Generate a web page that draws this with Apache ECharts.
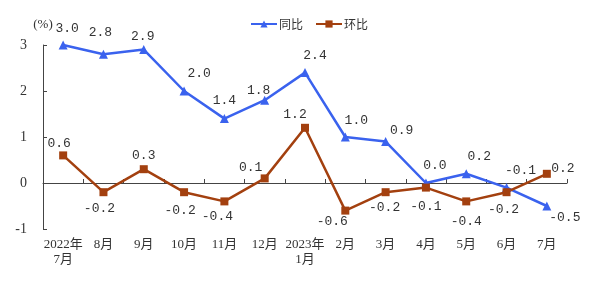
<!DOCTYPE html>
<html><head><meta charset="utf-8">
<script src="https://cdn.jsdelivr.net/npm/echarts@6/dist/echarts.min.js"></script>
<style>html,body{margin:0;padding:0;background:#fff}#c{width:596px;height:291px}</style>
</head><body><div id="c"></div>
<script>
const categories = ['2022年\n7月','8月','9月','10月','11月','12月','2023年\n1月','2月','3月','4月','5月','6月','7月'];
const yoy = [3.0, 2.8, 2.9, 2.0, 1.4, 1.8, 2.4, 1.0, 0.9, 0.0, 0.2, -0.1, -0.5];
const mom = [0.6, -0.2, 0.3, -0.2, -0.4, 0.1, 1.2, -0.6, -0.2, -0.1, -0.4, -0.2, 0.2];
const yTicks = [-1, 0, 1, 2, 3];

// label offsets (style only)
const yoyOff = [[4,-16],[-3,-22],[-1,-13],[15,-17],[0,-18],[-6,-10],[10,-17],[11,-16],[16,-11],[9,-17],[13,-17],[14,-17],[18,12]];
const momOff = [[-4,-12],[-4,16],[0,-14],[-4,18],[-7,15],[-14,-11],[-10,-13],[-13,11],[-1,15],[0,19],[0,20],[-3,17],[16,-5]];

const BLUE = '#3a62ee', BROWN = '#a3400f', TXT = '#333';
const numFont = "'Liberation Mono', monospace";
const serif = "'Liberation Serif', 'Noto Sans CJK SC', serif";

function mk(vals, offs){
  return vals.map((v,i)=>({value:v, label:{offset:offs[i]}}));
}
const chart = echarts.init(document.getElementById('c'), null, {renderer:'canvas'});
chart.setOption({
  animation:false,
  backgroundColor:'#fff',
  legend:{
    left:245, top:13, itemWidth:26, itemHeight:9, itemGap:12,
    textStyle:{fontFamily:"'Noto Sans CJK SC'", fontSize:12, color:TXT, padding:[0,0,0,-3]},
    data:['同比','环比']
  },
  grid:{left:43, right:29, top:45, bottom:62},
  xAxis:[{
    type:'category', data:categories, position:'bottom',
    axisLine:{show:false, onZero:false}, axisTick:{show:false},
    axisLabel:{interval:0, color:TXT, fontSize:13, fontFamily:serif, margin:8, lineHeight:15}
  },{
    type:'category', data:categories, position:'bottom', boundaryGap:true,
    axisLine:{show:true, onZero:true, lineStyle:{color:'#444', width:1}},
    axisTick:{show:true, inside:true, length:4, interval:0, lineStyle:{color:'#444'}},
    axisLabel:{show:false}
  }],
  yAxis:{
    type:'value', min:yTicks[0], max:yTicks[yTicks.length-1], interval:1,
    name:'(%)', nameLocation:'end', nameGap:14,
    nameTextStyle:{color:TXT, fontFamily:serif, fontSize:13, align:'center', padding:[0,0,0,0]},
    axisLine:{show:true, lineStyle:{color:'#444', width:1}},
    axisTick:{show:true, inside:true, length:4, lineStyle:{color:'#444'}},
    splitLine:{show:false},
    axisLabel:{color:TXT, fontSize:14, fontFamily:serif, margin:16}
  },
  series:[{
    name:'同比', type:'line', xAxisIndex:0, data:mk(yoy, yoyOff),
    symbol:'triangle', symbolSize:9,
    lineStyle:{color:BLUE, width:2.5}, itemStyle:{color:BLUE},
    label:{show:true, position:'inside', color:TXT, fontSize:13, fontFamily:numFont,
      formatter:p=>p.value.toFixed(1)}
  },{
    name:'环比', type:'line', xAxisIndex:0, data:mk(mom, momOff),
    symbol:'rect', symbolSize:8,
    lineStyle:{color:BROWN, width:2.5}, itemStyle:{color:BROWN},
    label:{show:true, position:'inside', color:TXT, fontSize:13, fontFamily:numFont,
      formatter:p=>p.value.toFixed(1)}
  }]
});
</script></body></html>
